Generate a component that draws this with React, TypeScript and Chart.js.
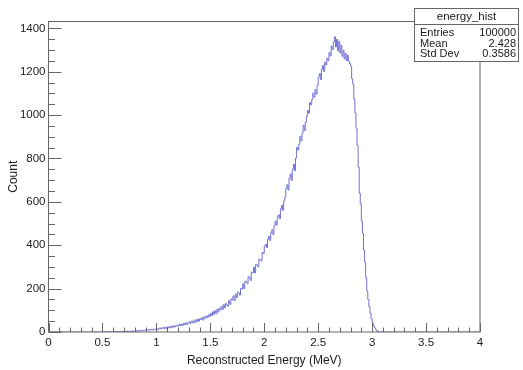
import React, { useEffect, useRef } from 'react';
import { Chart, registerables } from 'chart.js';

Chart.register(...registerables);

// Histogram definition: 400 bins of 0.01 MeV from 0 to 4 MeV
const binWidth = 0.01;
const xMin = 0;
const xMax = 4;
const yMax = 1431.5;

// Bin contents, 0.00 - 0.99 MeV
const countsBelow1 = [
  0, 0, 0, 0, 0, 0, 0, 0, 0, 0,
  0, 0, 0, 0, 0, 0, 0, 0, 0, 0,
  0, 0, 0, 0, 0, 0, 0, 0, 0, 0,
  0, 0, 0, 0, 0, 0, 0, 0, 0, 0,
  0, 0, 0, 1, 0, 0, 0, 0, 0, 0,
  0, 1, 0, 0, 1, 0, 1, 0, 1, 1,
  1, 0, 2, 1, 1, 2, 1, 3, 2, 1,
  2, 3, 2, 4, 3, 2, 4, 3, 5, 4,
  4, 6, 5, 4, 7, 6, 8, 6, 7, 9,
  8, 10, 9, 11, 9, 12, 10, 13, 12, 14,
];

// Bin contents, 1.00 - 1.99 MeV
const counts1to2 = [
  15, 11, 17, 19, 14, 18, 21, 15, 22, 17,
  23, 19, 26, 20, 27, 22, 29, 23, 30, 31,
  27, 35, 30, 37, 31, 39, 34, 42, 35, 43,
  46, 38, 49, 42, 52, 44, 56, 47, 59, 50,
  61, 57, 66, 55, 70, 63, 74, 66, 79, 72,
  86, 76, 93, 82, 98, 85, 104, 92, 110, 103,
  118, 104, 126, 112, 131, 125, 119, 144, 128, 152,
  148, 166, 145, 174, 158, 184, 179, 170, 201, 198,
  222, 200, 234, 232, 224, 255, 250, 238, 276, 274,
  298, 272, 311, 308, 301, 336, 332, 328, 366, 362,
];

// Bin contents, 2.00 - 2.99 MeV
const counts2to3 = [
  396, 404, 389, 427, 441, 422, 458, 471, 449, 490,
  511, 493, 532, 540, 522, 569, 584, 561, 605, 622,
  662, 679, 655, 709, 728, 699, 751, 774, 744, 802,
  851, 839, 866, 902, 881, 918, 952, 929, 966, 993,
  1021, 1009, 1058, 1047, 1072, 1101, 1083, 1118, 1097, 1139,
  1176, 1191, 1164, 1212, 1229, 1201, 1244, 1231, 1262, 1251,
  1289, 1273, 1318, 1302, 1337, 1361, 1314, 1349, 1296, 1340,
  1287, 1322, 1271, 1298, 1259, 1284, 1251, 1276, 1249, 1238,
  1226, 1168, 1142, 1075, 1010, 940, 860, 760, 640, 590,
  512, 455, 378, 322, 252, 190, 150, 118, 86, 62,
];

// Bin contents, 3.00 - 3.99 MeV
const counts3to4 = [
  44, 30, 20, 12, 6, 3, 1, 0, 0, 0,
  0, 0, 0, 0, 0, 0, 0, 0, 0, 0,
  0, 0, 0, 0, 0, 0, 0, 0, 0, 0,
  0, 0, 0, 0, 0, 0, 0, 0, 0, 0,
  0, 0, 0, 0, 0, 0, 0, 0, 0, 0,
  0, 0, 0, 0, 0, 0, 0, 0, 0, 0,
  0, 0, 0, 0, 0, 0, 0, 0, 0, 0,
  0, 0, 0, 0, 0, 0, 0, 0, 0, 0,
  0, 0, 0, 0, 0, 0, 0, 0, 0, 0,
  0, 0, 0, 0, 0, 0, 0, 0, 0, 0,
];

const xMajorTicks = [0, 0.5, 1, 1.5, 2, 2.5, 3, 3.5, 4];
const xMinorStep = 0.1;
const yMajorTicks = [0, 200, 400, 600, 800, 1000, 1200, 1400];
const yMinorStep = 50;

const xTitle = 'Reconstructed Energy (MeV)';
const yTitle = 'Count';
const statsTitle = 'energy_hist';
const statsLabels = ['Entries', 'Mean', 'Std Dev'];
const statsValues = ['100000', '2.428', '0.3586'];

const FONT = '"Liberation Sans", Arial, Helvetica, sans-serif';
const TEXT = '#1c1c1c';
const FRAME = '#666666';

const rootPlugin = {
  id: 'rootStyle',
  afterDatasetsDraw(chart: any) {
    const { ctx, chartArea } = chart;
    const xs = chart.scales.x;
    const ys = chart.scales.y;
    const { left, right, top, bottom } = chartArea;
    ctx.save();
    ctx.strokeStyle = FRAME;
    ctx.lineWidth = 1;
    ctx.strokeRect(left, top, right - left, bottom - top);
    ctx.beginPath();
    const nxMinor = Math.round((xMax - xMin) / xMinorStep);
    for (let i = 0; i <= nxMinor; i++) {
      const v = xMin + i * xMinorStep;
      const isMajor = xMajorTicks.some((t) => Math.abs(t - v) < 1e-6);
      const px = Math.round(xs.getPixelForValue(v)) + 0.5;
      ctx.moveTo(px, bottom);
      ctx.lineTo(px, bottom - (isMajor ? 9 : 4.5));
    }
    const nyMinor = Math.floor(yMax / yMinorStep);
    for (let i = 0; i <= nyMinor; i++) {
      const v = i * yMinorStep;
      const isMajor = yMajorTicks.includes(v);
      const py = Math.round(ys.getPixelForValue(v)) + 0.5;
      ctx.moveTo(left, py);
      ctx.lineTo(left + (isMajor ? 13 : 6.5), py);
    }
    ctx.stroke();
    ctx.restore();
  },
  afterDraw(chart: any) {
    const { ctx } = chart;
    ctx.save();
    const x0 = 414.5, y0 = 8.5, x1 = 518.5, y1 = 61.5, yTitleLine = 24.5;
    ctx.fillStyle = '#ffffff';
    ctx.fillRect(x0, y0, x1 - x0, y1 - y0);
    ctx.strokeStyle = FRAME;
    ctx.lineWidth = 1;
    ctx.strokeRect(x0, y0, x1 - x0, y1 - y0);
    ctx.beginPath();
    ctx.moveTo(x0, yTitleLine);
    ctx.lineTo(x1, yTitleLine);
    ctx.stroke();
    ctx.fillStyle = TEXT;
    ctx.font = `11.5px ${FONT}`;
    ctx.textBaseline = 'middle';
    ctx.textAlign = 'center';
    ctx.fillText(statsTitle, (x0 + x1) / 2, 16.5);
    const rowY = [33, 43.5, 54];
    ctx.font = `11px ${FONT}`;
    statsLabels.forEach((lab, i) => {
      ctx.textAlign = 'left';
      ctx.fillText(lab, 420, rowY[i]);
      ctx.textAlign = 'right';
      ctx.fillText(statsValues[i], 516, rowY[i]);
    });
    ctx.restore();
  },
};

export default function App() {
  const ref = useRef<HTMLCanvasElement>(null);
  useEffect(() => {
    document.body.style.margin = '0';
    const counts = [...countsBelow1, ...counts1to2, ...counts2to3, ...counts3to4];
    const points = counts.map((c, i) => ({ x: xMin + i * binWidth, y: c }));
    points.push({ x: xMax, y: counts[counts.length - 1] });

    const chart = new Chart(ref.current as HTMLCanvasElement, {
      type: 'line',
      data: {
        datasets: [
          {
            label: statsTitle,
            data: points,
            borderColor: '#7272d4',
            borderWidth: 1,
            pointRadius: 0,
            stepped: 'before',
            fill: false,
            tension: 0,
          } as any,
        ],
      },
      options: {
        animation: false,
        responsive: false,
        devicePixelRatio: 1,
        layout: { padding: { top: 21.5, right: 43, left: 0, bottom: 0 } },
        plugins: { legend: { display: false }, tooltip: { enabled: false } },
        scales: {
          x: {
            type: 'linear',
            min: xMin,
            max: xMax,
            grid: { display: false, drawTicks: false },
            border: { display: false },
            afterFit: (s: any) => { s.height = 38; },
            afterBuildTicks: (s: any) => { s.ticks = xMajorTicks.map((v) => ({ value: v })); },
            ticks: {
              autoSkip: false,
              maxRotation: 0,
              padding: 4,
              color: TEXT,
              font: { family: FONT, size: 11.5 },
              callback: (v: any) => String(v),
            },
            title: {
              display: true,
              text: xTitle,
              color: TEXT,
              font: { family: FONT, size: 12 },
              padding: { top: 0, bottom: 2 },
            },
          },
          y: {
            type: 'linear',
            min: 0,
            max: yMax,
            grid: { display: false, drawTicks: false },
            border: { display: false },
            afterFit: (s: any) => { s.width = 48.5; },
            afterBuildTicks: (s: any) => { s.ticks = yMajorTicks.map((v) => ({ value: v })); },
            ticks: {
              autoSkip: false,
              padding: 3,
              color: TEXT,
              font: { family: FONT, size: 11.5 },
              callback: (v: any) => String(v),
            },
            title: {
              display: true,
              text: yTitle,
              color: TEXT,
              font: { family: FONT, size: 12 },
              padding: { top: 6, bottom: 0 },
            },
          },
        },
      },
      plugins: [rootPlugin],
    });
    return () => chart.destroy();
  }, []);
  return (
    <div style={{ width: 523, height: 370 }}>
      <canvas ref={ref} width={523} height={370} style={{ display: 'block' }} />
    </div>
  );
}
